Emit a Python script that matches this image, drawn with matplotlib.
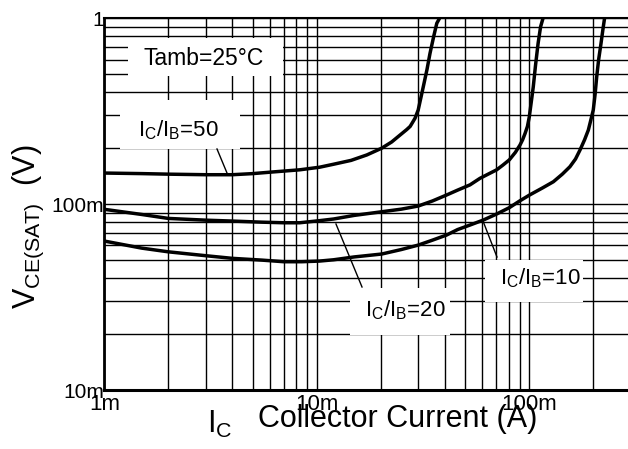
import matplotlib
matplotlib.use("Agg")
import matplotlib.pyplot as plt
from matplotlib.patches import Rectangle
from matplotlib.ticker import LogLocator, NullFormatter, FixedLocator

plt.rcParams['font.family'] = ['Liberation Sans', 'DejaVu Sans']
plt.rcParams['mathtext.fontset'] = 'custom'
plt.rcParams['mathtext.rm'] = 'Liberation Sans'
plt.rcParams['mathtext.it'] = 'Liberation Sans:italic'
plt.rcParams['mathtext.bf'] = 'Liberation Sans:bold'

# ---- data (collector current in mA, VCE(sat) in V) ----
ic_50 = [1.0, 1.5, 2.0, 3.0, 4.0, 5.0, 6.2, 8.3, 10.3, 12.0, 14.5, 17.2, 20.2, 22.5,
         24.6, 26.5, 27.5, 29.0, 30.0, 31.7, 33.0, 34.1, 35.5, 36.7, 37.8]
v_50 = [0.147, 0.146, 0.145, 0.144, 0.144, 0.146, 0.149, 0.153, 0.158, 0.164, 0.172, 0.184, 0.200, 0.216,
        0.235, 0.252, 0.262, 0.290, 0.321, 0.428, 0.53, 0.648, 0.80, 0.94, 1.0]

ic_20 = [1.0, 1.5, 2.0, 3.0, 4.0, 5.5, 7.0, 8.3, 10.3, 12.0, 15.0, 20.2, 25.0, 30.0, 35.0,
         40.8, 46.0, 52.6, 58.6, 64.0, 70.2, 75.0, 80.5, 86.0, 90.4, 93.0, 95.5, 98.0,
         100.0, 102.0, 104.4, 107.0, 110.0, 113.0, 116.0]
v_20 = [0.0938, 0.088, 0.0838, 0.0820, 0.0811, 0.0800, 0.0794, 0.0794, 0.0815, 0.0832, 0.087, 0.091, 0.094, 0.0977, 0.104,
        0.112, 0.119, 0.127, 0.1377, 0.145, 0.153, 0.162, 0.173, 0.19, 0.208, 0.222, 0.240, 0.262,
        0.295, 0.35, 0.428, 0.56, 0.733, 0.9, 1.0]

ic_10 = [1.0, 1.5, 2.0, 3.0, 4.0, 5.5, 7.0, 8.5, 10.3, 12.0, 15.0, 20.2, 25.0, 30.0, 35.0,
         40.8, 46.0, 52.6, 60.7, 70.2, 80.5, 90.4, 100.3, 115.0, 129.8, 143.0, 155.3, 165.0,
         173.2, 182.0, 189.6, 195.0, 200.0, 204.0, 207.6, 212.0, 217.5, 222.0, 226.0]
v_10 = [0.0633, 0.058, 0.0554, 0.0528, 0.0511, 0.050, 0.049, 0.049, 0.0494, 0.0502, 0.052, 0.0539, 0.057, 0.0602, 0.064,
        0.0682, 0.073, 0.0772, 0.0821, 0.0885, 0.0957, 0.1043, 0.112, 0.122, 0.132, 0.145, 0.159, 0.175,
        0.1955, 0.222, 0.2505, 0.285, 0.321, 0.39, 0.485, 0.6, 0.733, 0.87, 1.0]

x_ticks = [1e-3, 1e-2, 1e-1]
x_tick_labels = ["1m", "10m", "100m"]
y_ticks = [1e-2, 1e-1, 1.0]
y_tick_labels = ["10m", "100m", "1"]

series = [(ic_50, v_50), (ic_20, v_20), (ic_10, v_10)]

# ---- figure ----
W, H = 628, 449
fig = plt.figure(figsize=(W / 100, H / 100), dpi=100)
ax_l, ax_r, ax_t, ax_b = 104.3, 628.0, 18.3, 390.0
ax = fig.add_axes([ax_l / W, (H - ax_b) / H, (ax_r - ax_l) / W, (ax_b - ax_t) / H])
ax.set_xscale('log')
ax.set_yscale('log')
ax.set_xlim(1e-3, 10 ** (-3 + (ax_r - ax_l) / 212.5))
ax.set_ylim(1e-2, 1.0)

ax.xaxis.set_major_locator(FixedLocator(x_ticks))
ax.yaxis.set_major_locator(FixedLocator(y_ticks))
ax.set_xticklabels(x_tick_labels)
ax.set_yticklabels(y_tick_labels)
ax.xaxis.set_minor_locator(LogLocator(base=10, subs=range(2, 10)))
ax.yaxis.set_minor_locator(LogLocator(base=10, subs=range(2, 10)))
ax.xaxis.set_minor_formatter(NullFormatter())
ax.yaxis.set_minor_formatter(NullFormatter())
ax.tick_params(which='both', length=0)
ax.tick_params(axis='x', which='major', pad=3, labelsize=16)
ax.tick_params(axis='y', which='major', pad=0, labelsize=15)
ax.grid(which='both', color='black', linewidth=1.0)

ax.spines['right'].set_visible(False)
ax.spines['left'].set_linewidth(2.0)
ax.spines['bottom'].set_linewidth(2.2)
ax.spines['top'].set_linewidth(1.5)

for ic, v in series:
    ax.plot([i * 1e-3 for i in ic], v, color='black', lw=2.5,
            solid_capstyle='butt', solid_joinstyle='round', zorder=3)

# white label boxes (axes fraction)
def box(x0, x1, y0, y1):
    ax.add_patch(Rectangle((x0, y0), x1 - x0, y1 - y0, transform=ax.transAxes,
                           facecolor='white', edgecolor='none', zorder=2.2))

box(0.045, 0.341, 0.845, 0.947)
box(0.030, 0.259, 0.648, 0.780)
box(0.469, 0.660, 0.148, 0.274)
box(0.727, 0.914, 0.2375, 0.350)

ax.text(0.074, 0.874, 'Tamb=25°C', transform=ax.transAxes, fontsize=16.5,
        ha='left', va='baseline', zorder=4)
ax.text(0.065, 0.6815, r'$\mathregular{I_C/I_B}$=50', transform=ax.transAxes, fontsize=16,
        ha='left', va='baseline', zorder=4)
ax.text(0.498, 0.197, r'$\mathregular{I_C/I_B}$=20', transform=ax.transAxes, fontsize=16,
        ha='left', va='baseline', zorder=4)
ax.text(0.7556, 0.2836, r'$\mathregular{I_C/I_B}$=10', transform=ax.transAxes, fontsize=16,
        ha='left', va='baseline', zorder=4)

# leader lines
for (x0, y0, x1, y1) in [(0.2152, 0.6484, 0.2343, 0.5838),
                         (0.4424, 0.4466, 0.4921, 0.2771),
                         (0.7231, 0.4547, 0.7498, 0.3578)]:
    ax.plot([x0, x1], [y0, y1], transform=ax.transAxes, color='black', lw=1.0, zorder=4)

# axis titles
fig.text(207 / W, (H - 433) / H, r'$\mathregular{I_C}$', fontsize=22, ha='left', va='baseline')
fig.text(258 / W, (H - 427) / H, 'Collector Current (A)', fontsize=22, ha='left', va='baseline')
fig.text(28 / W, (H - 226.5) / H, r'$\mathregular{V_{CE(SAT)}}$  (V)', fontsize=22,
         rotation=90, ha='center', va='center')

fig.savefig('out.png', dpi=100)
